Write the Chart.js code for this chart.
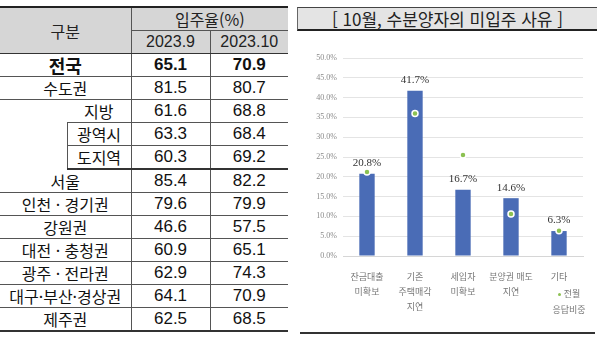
<!DOCTYPE html>
<html lang="ko">
<head>
<meta charset="utf-8">
<script src="https://cdn.jsdelivr.net/npm/chart.js@4.4.0/dist/chart.umd.min.js"></script>
<style>
  body { margin: 0; width: 600px; height: 338px; background: #fff; position: relative; overflow: hidden;
         font-family: "Liberation Sans", "Noto Sans CJK KR", sans-serif; }
  #rate-table { position: absolute; left: 0; top: 6px; width: 288px; border-collapse: collapse; table-layout: fixed; }
  #rate-table th, #rate-table td { padding: 0; text-align: center; color: #111; font-weight: normal;
         border: none; border-bottom: 1px solid #555; height: 22px; line-height: 22px; }
  #rate-table th { background: #d6d6d6; color: #222; font-size: 16px; height: 22px; }
  #rate-table th.ko { font-family: "Noto Sans CJK KR", sans-serif; font-size: 16px; }
  #rate-table thead tr:first-child th { border-top: 2px solid #222; }
  #rate-table thead tr:last-child th, #rate-table th.corner { border-bottom: 1px solid #333; }
  #rate-table .name { font-family: "Noto Sans CJK KR", sans-serif; font-size: 16px; }
  #rate-table .num { font-size: 17px; border-left: 1px solid #555; }
  #rate-table .vl { border-left: 1px solid #555; }
  #rate-table tr.total td { font-weight: bold; }
  #rate-table tr.total .name { font-size: 18px; }
  #rate-table td.blank { border-bottom: none; }
  #rate-table tr.thick td { border-bottom: 2px solid #333; }
  #rate-table tr:last-child td { border-bottom: 2px solid #333; }

  #title { position: absolute; left: 297px; top: 7px; width: 299px; height: 21px; background: #e4e4e4;
           border-top: 1px solid #444; border-left: 1px solid #666; border-bottom: 2px solid #222;
           font-family: "Noto Sans CJK KR", sans-serif; font-size: 17px; line-height: 21px; text-align: center; color: #222; }
  #chart-box { position: absolute; left: 300px; top: 40px; width: 297px; height: 293px; }
  #prev-legend { position: absolute; left: 545px; top: 286px; width: 48px; text-align: center;
           font-family: "Noto Sans CJK KR", sans-serif; font-size: 9px; line-height: 16px; color: #777; }
  #prev-legend i { display: inline-block; width: 3px; height: 3px; border-radius: 50%; background: #8cc152;
           vertical-align: middle; margin-right: 3px; }
  #bottom-rule { position: absolute; left: 300px; top: 332px; width: 295px; height: 2px; background: #333; }
</style>
</head>
<body>

<table id="rate-table">
  <colgroup><col style="width:67px"><col style="width:64px"><col style="width:79px"><col style="width:78px"></colgroup>
  <thead>
    <tr><th class="corner ko" rowspan="2" colspan="2">구분</th><th class="vl ko" colspan="2">입주율(%)</th></tr>
    <tr><th class="vl">2023.9</th><th class="vl">2023.10</th></tr>
  </thead>
  <tbody id="rate-body"></tbody>
</table>

<div id="title">[ 10월, 수분양자의 미입주 사유 ]</div>
<div id="chart-box"><canvas id="reason-chart"></canvas></div>
<div id="prev-legend"><i></i>전월<br>응답비중</div>
<div id="bottom-rule"></div>

<script>
// 지역별 입주율 (%)
const regions = ['전국', '수도권', '지방', '광역시', '도지역', '서울', '인천 · 경기권', '강원권',
                 '대전 · 충청권', '광주 · 전라권', '대구·부산·경상권', '제주권'];
const rateSep = [65.1, 81.5, 61.6, 63.3, 60.3, 85.4, 79.6, 46.6, 60.9, 62.9, 64.1, 62.5];
const rateOct = [70.9, 80.7, 68.8, 68.4, 69.2, 82.2, 79.9, 57.5, 65.1, 74.3, 70.9, 68.5];

// 미입주 사유 (%)
const reasons = [['잔금대출', '미확보'], ['기존', '주택매각', '지연'], ['세입자', '미확보'], ['분양권 매도', '지연'], ['기타']];
const shareOct = [20.8, 41.7, 16.7, 14.6, 6.3];
const sharePrev = [21.2, 36.0, 25.5, 10.6, 6.4];

// 표 채우기
const tbody = document.getElementById('rate-body');
regions.forEach((name, i) => {
  const tr = document.createElement('tr');
  let nameCells;
  if (i === 2) {
    // 지방 아래로 광역시, 도지역이 들여쓰기 됨
    nameCells = `<td class="blank" rowspan="3"></td><td class="name">${name}</td>`;
  } else if (i === 3 || i === 4) {
    nameCells = `<td class="name vl">${name}</td>`;
  } else {
    nameCells = `<td class="name" colspan="2">${name}</td>`;
  }
  if (i === 0) tr.className = 'total';
  if (i === 4) tr.className = 'thick';
  tr.innerHTML = `${nameCells}<td class="num">${rateSep[i].toFixed(1)}</td><td class="num">${rateOct[i].toFixed(1)}</td>`;
  tbody.appendChild(tr);
});

// 막대 위 값 표시
const valueLabels = {
  id: 'valueLabels',
  afterDatasetsDraw(chart) {
    const ctx = chart.ctx;
    const meta = chart.getDatasetMeta(1);
    ctx.save();
    ctx.font = '11px "Liberation Serif", serif';
    ctx.fillStyle = '#333';
    ctx.textAlign = 'center';
    ctx.textBaseline = 'bottom';
    meta.data.forEach((bar, i) => {
      ctx.fillText(shareOct[i].toFixed(1) + '%', bar.x, bar.y - 5);
    });
    ctx.restore();
  }
};

const ctx = document.getElementById('reason-chart').getContext('2d');
new Chart(ctx, {
  type: 'bar',
  data: {
    labels: reasons,
    datasets: [
      {
        type: 'line',
        label: '전월 응답비중',
        data: sharePrev,
        showLine: false,
        pointRadius: 3,
        pointBackgroundColor: '#8cc152',
        pointBorderColor: '#ffffff',
        pointBorderWidth: 1.5,
        order: 0,
      },
      {
        label: '10월',
        data: shareOct,
        backgroundColor: '#4a6cb6',
        barPercentage: 0.32,
        categoryPercentage: 1,
        order: 1,
      },
    ],
  },
  options: {
    responsive: true,
    maintainAspectRatio: false,
    animation: false,
    layout: { padding: { top: 18, right: 14, left: 0, bottom: 0 } },
    plugins: { legend: { display: false }, tooltip: { enabled: false } },
    scales: {
      y: {
        min: 0,
        max: 50,
        ticks: {
          stepSize: 5,
          padding: 6,
          color: '#8a8a8a',
          font: { family: '"Liberation Serif", serif', size: 8 },
          callback: (v) => v.toFixed(1) + '%',
        },
        grid: { color: '#e4e4e4', drawTicks: false },
        border: { display: false },
        afterFit: (scale) => { scale.width = 43; },
      },
      x: {
        grid: { display: false },
        border: { color: '#d6d6d6' },
        ticks: {
          padding: 5,
          color: '#777',
          maxRotation: 0,
          autoSkip: false,
          font: { family: '"Noto Sans CJK KR", sans-serif', size: 9, lineHeight: 1.65 },
        },
        afterFit: (scale) => { scale.height = 77; },
      },
    },
  },
  plugins: [valueLabels],
});
</script>
</body>
</html>
